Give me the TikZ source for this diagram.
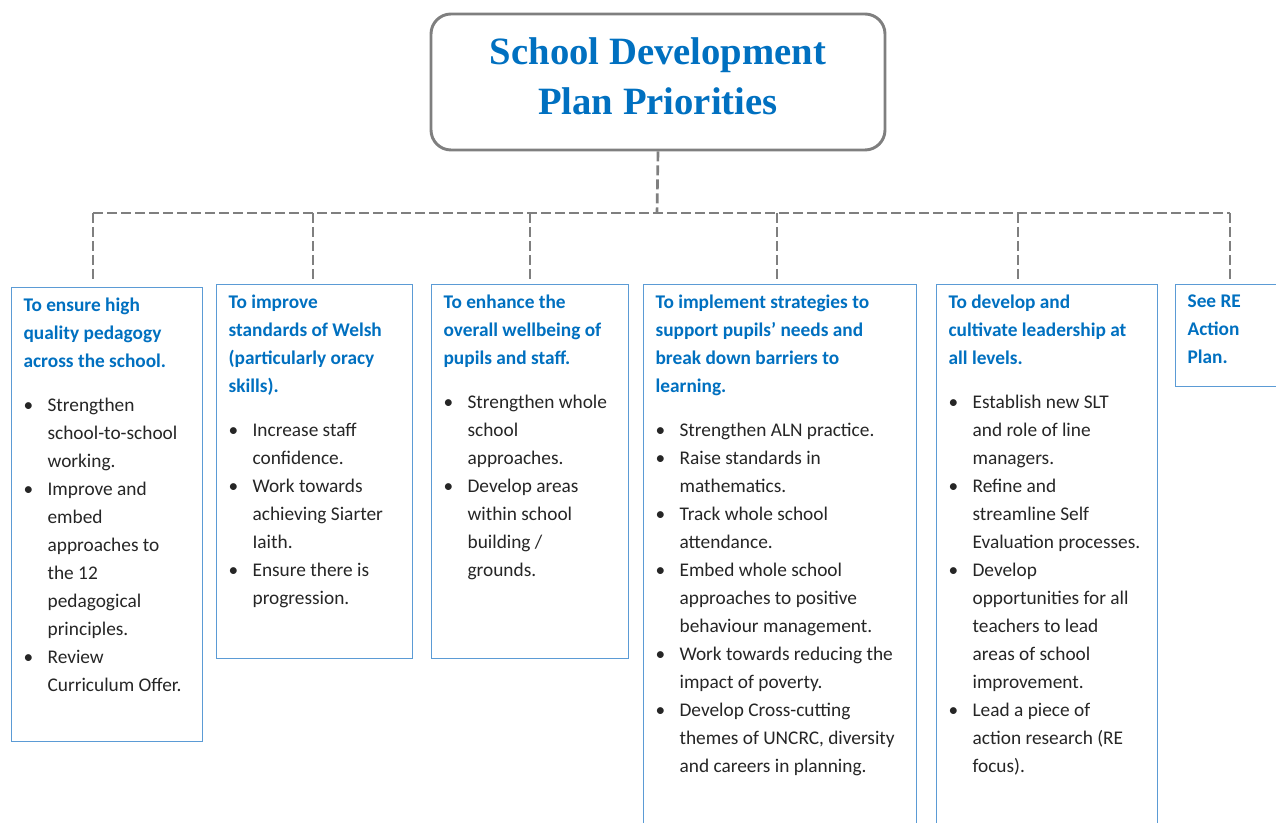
\documentclass[tikz,border=0pt]{standalone}
\usepackage{fontspec}
\setmainfont{Carlito}
\newfontfamily\titlefont{Liberation Serif}
\usetikzlibrary{positioning}

\definecolor{headblue}{RGB}{0,112,192}
\definecolor{boxblue}{RGB}{91,155,213}
\definecolor{linegray}{RGB}{127,127,127}

\newcommand{\card}[3]{\parbox[t][#2][t]{#1}{\fontsize{14.5pt}{21pt}\selectfont\raggedright\color{black!85}#3}}
\newcommand{\head}[1]{{\bfseries\color{headblue}#1\par}\vspace{12.5pt}}
\newcommand{\bul}[1]{\par\noindent\hangindent=18pt\hangafter=1\makebox[18pt][l]{\textbullet}#1}

\tikzset{
  prio/.style={draw=boxblue, line width=0.9pt, fill=white, inner xsep=9pt, inner ysep=7.5pt, anchor=north west},
  link/.style={draw=linegray, line width=2pt, dash pattern=on 7.5pt off 3pt}
}

\begin{document}
\begin{tikzpicture}
  [x=0.75pt, y=-0.75pt]
  \clip (0,0) rectangle (1276,823);

  \node[draw=linegray, line width=2.2pt, rounded corners=15pt, minimum width=340.5pt, minimum height=102pt]
        (title) at (658,82) {};
  \node[align=center, text=headblue, font=\titlefont\bfseries\fontsize{29pt}{37.5pt}\selectfont]
        (titletext) at ([yshift=4pt]title.center) {School Development\\Plan Priorities};

  \node[prio] (p1) at (11,287) {\card{125.25pt}{325.5pt}{%
    \head{To ensure high\newline quality pedagogy\newline across the school.}%
    \bul{Strengthen\newline school-to-school\newline working.}%
    \bul{Improve and\newline embed\newline approaches to\newline the 12\newline pedagogical\newline principles.}%
    \bul{Review\newline Curriculum Offer.}}};

  \node[prio] (p2) at (216,284) {\card{129pt}{265.5pt}{%
    \head{To improve\newline standards of Welsh\newline (particularly oracy\newline skills).}%
    \bul{Increase staff\newline confidence.}%
    \bul{Work towards\newline achieving Siarter\newline Iaith.}%
    \bul{Ensure there is\newline progression.}}};

  \node[prio] (p3) at (431,284) {\card{129.75pt}{265.5pt}{%
    \head{To enhance the\newline overall wellbeing of\newline pupils and staff.}%
    \bul{Strengthen whole\newline school\newline approaches.}%
    \bul{Develop areas\newline within school\newline building /\newline grounds.}}};

  \node[prio] (p4) at (643,284) {\card{186.75pt}{405pt}{%
    \head{To implement strategies to\newline support pupils’ needs and\newline break down barriers to\newline learning.}%
    \bul{Strengthen ALN practice.}%
    \bul{Raise standards in\newline mathematics.}%
    \bul{Track whole school\newline attendance.}%
    \bul{Embed whole school\newline approaches to positive\newline behaviour management.}%
    \bul{Work towards reducing the\newline impact of poverty.}%
    \bul{Develop Cross-cutting\newline themes of UNCRC, diversity\newline and careers in planning.}}};

  \node[prio] (p5) at (936,284) {\card{147.75pt}{405pt}{%
    \head{To develop and\newline cultivate leadership at\newline all levels.}%
    \bul{Establish new SLT\newline and role of line\newline managers.}%
    \bul{Refine and\newline streamline Self\newline Evaluation processes.}%
    \bul{Develop\newline opportunities for all\newline teachers to lead\newline areas of school\newline improvement.}%
    \bul{Lead a piece of\newline action research (RE\newline focus).}}};

  \node[prio] (p6) at (1175,284) {\card{68.25pt}{61.5pt}{%
    {\bfseries\color{headblue}See RE\newline Action\newline Plan.}}};

  % dashed tree
  \coordinate (bus) at (657,213);
  \coordinate (d1) at (93,280);
  \coordinate (d2) at (313,280);
  \coordinate (d3) at (530,280);
  \coordinate (d4) at (777,280);
  \coordinate (d5) at (1018,280);
  \coordinate (d6) at (1230,280);

  \draw[link] (title.south) -- (bus);
  \draw[link] (d1 |- bus) -- (d6 |- bus);
  \foreach \d in {d1,d2,d3,d4,d5,d6}
    \draw[link] (\d |- bus) -- (\d);
\end{tikzpicture}
\end{document}
